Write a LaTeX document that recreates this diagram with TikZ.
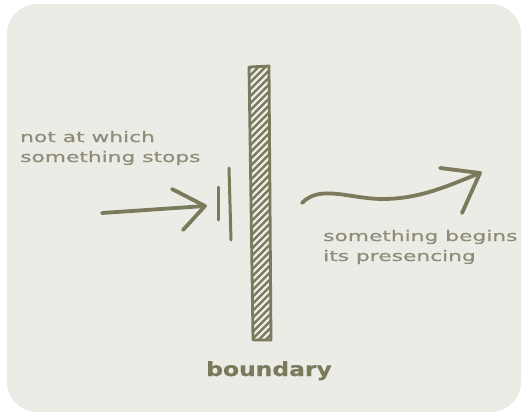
\documentclass[tikz,border=0pt]{standalone}
\usepackage{fontspec}
\newfontfamily\sketchfont[FakeStretch=1.5, FakeBold=0.6]{DejaVu Sans}
\newfontfamily\sketchbold[FakeStretch=1.2, FakeBold=0.5]{DejaVu Sans Bold}
\definecolor{paper}{HTML}{ECECE6}
\definecolor{ink}{HTML}{7B7A5D}
\definecolor{note}{HTML}{8F8D78}
\tikzset{
	stroke/.style={ink, line width=3.8pt, line cap=round, line join=round},
	note/.style={text=note, font=\sketchfont\fontsize{14.5}{17}\selectfont, inner sep=0pt, anchor=base west},
}

\begin{document}
\begin{tikzpicture}[x=1pt, y=-1pt]
	\useasboundingbox (0,0) rectangle (523,413);
	\fill[paper, rounded corners=30pt] (7,4) rectangle (521,412);
	% the boundary post
	\coordinate (wallTL) at (249,67);
	\coordinate (wallTR) at (269,66);
	\coordinate (wallBR) at (271,340);
	\coordinate (wallBL) at (253,340);
	\begin{scope}
		\clip (wallTL) -- (wallTR) -- (wallBR) -- (wallBL) -- cycle;
		\fill[ink] (240,60) rectangle (280,345);
		\foreach \k in {0,7,...,300}
			\draw[paper, line width=2.2pt] (240,75+\k) -- ++(40,-40);
	\end{scope}
	\draw[ink, line width=2.8pt, line join=round] (wallTL) -- (wallTR) -- (wallBR) -- (wallBL) -- cycle;
	% incoming arrow and the two bars
	\coordinate (inTail) at (102,213);
	\coordinate (inTip) at (205,206);
	\coordinate (inUp) at (172,189);
	\coordinate (inLow) at (183,230);
	\draw[stroke] (inTail) -- (inTip);
	\draw[stroke] (inUp) -- (inTip) -- (inLow);
	\coordinate (barA1) at (218,187);
	\coordinate (barA2) at (218,220);
	\coordinate (barB1) at (229,168);
	\coordinate (barB2) at (231,240);
	\draw[stroke, line width=3pt] (barA1) -- (barA2);
	\draw[stroke, line width=3pt] (barB1) -- (barB2);
	% outgoing wavy arrow
	\coordinate (outStart) at (302,203);
	\coordinate (outDip) at (383,199);
	\coordinate (outTip) at (480,173);
	\coordinate (outUp) at (440,168);
	\coordinate (outLow) at (462,213);
	\draw[stroke] (outStart) .. controls (320,184) and (350,199) .. (outDip)
		.. controls (420,199) and (450,185) .. (outTip);
	\draw[stroke] (outUp) -- (outTip) -- (outLow);
	% labels
	\node[note] (stopsA) at (20,142) {not at which};
	\node[note] (stopsB) at (20,162) {something stops};
	\node[note] (beginsA) at (323,241) {something begins};
	\node[note] (beginsB) at (323,261) {its presencing};
	\node[text=ink, font=\sketchbold\fontsize{19.5}{22}\selectfont, inner sep=0pt, anchor=base] (boundaryLbl) at (269,376) {boundary};
\end{tikzpicture}
\end{document}
